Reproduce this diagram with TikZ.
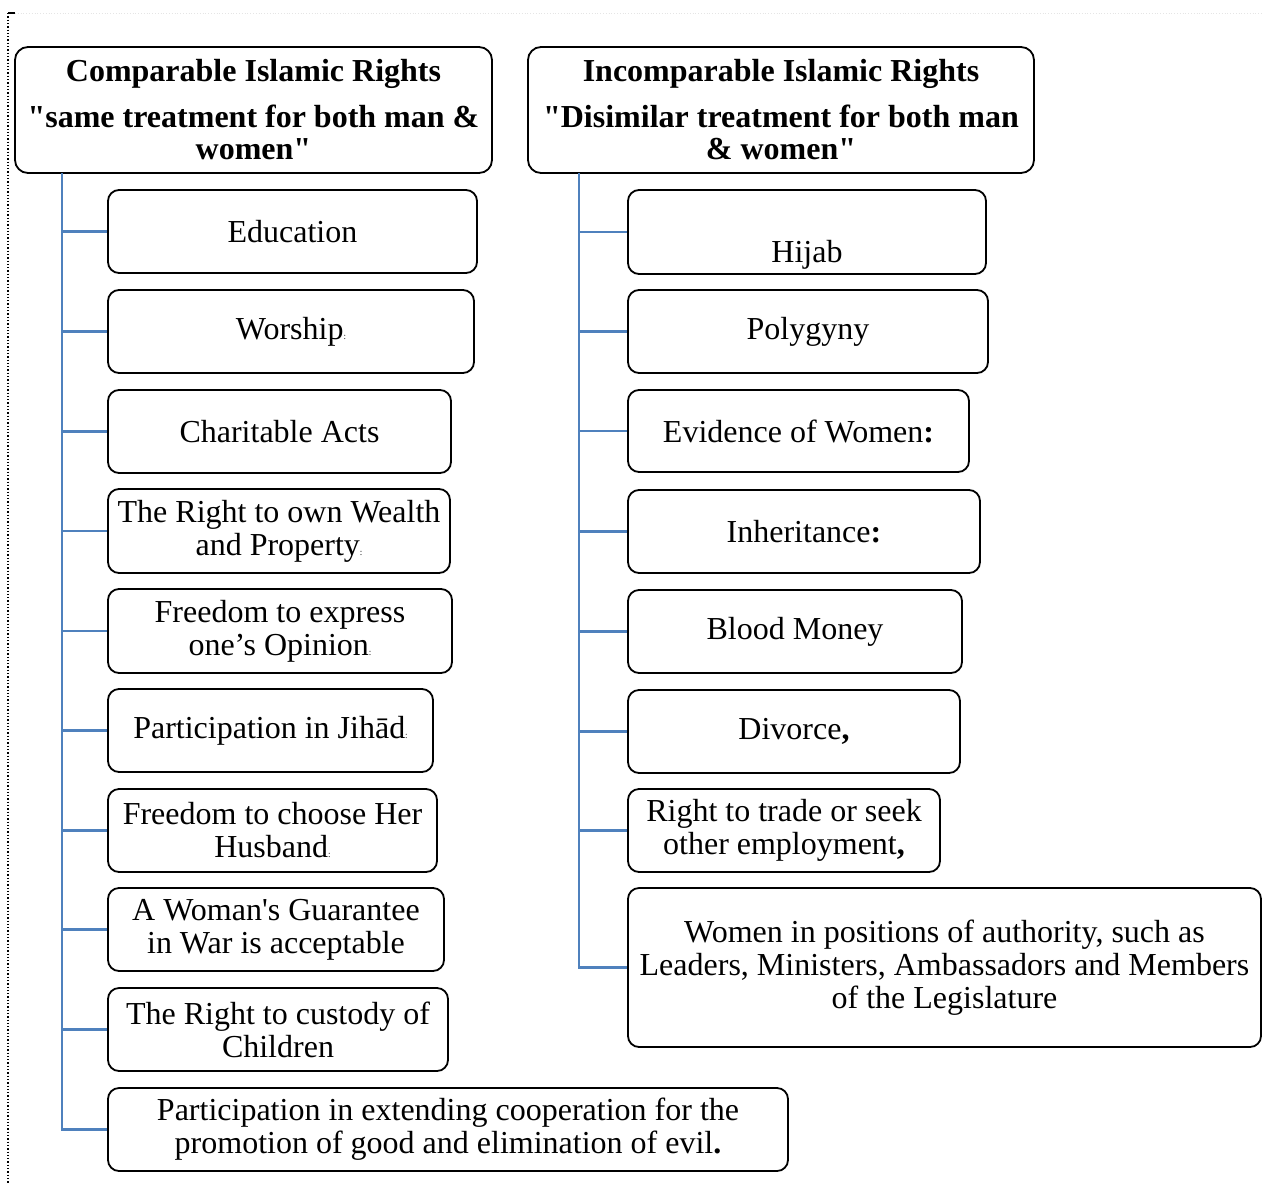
\documentclass[tikz,border=0pt]{standalone}
\usepackage{fontspec}
\setmainfont{Liberation Serif}
\definecolor{linkblue}{RGB}{79,129,189}
\newcommand{\tcol}{{\fontsize{9}{9}\selectfont :}}
\newcommand{\dq}{\textquotedbl}
\tikzset{
  itembox/.style={draw=black, line width=1.8pt, rounded corners=11pt, fill=white,
    align=center, inner sep=0pt, font=\fontsize{32}{33}\selectfont},
  headbox/.style={itembox, rounded corners=13pt, font=\bfseries\fontsize{32}{32}\selectfont},
  conn/.style={draw=linkblue, line width=2.4pt}
}
\begin{document}
\begin{tikzpicture}[x=1pt,y=-1pt]
\clip (0,0) rectangle (1263,1184);
\fill[white] (0,0) rectangle (1263,1184);
% page frame remnants
\draw[black, line width=1.3pt, dotted] (8,13) -- (8,1184);
\draw[black, line width=1.3pt] (8,13) -- (15,13);
\draw[black!10, line width=0.8pt, dotted] (15,13) -- (1263,13);

% headers
\node[headbox, minimum width=477, minimum height=126] (hL) at (253.5,110)
  {Comparable Islamic Rights\\[14pt]\dq same treatment for both man \&\\women\dq};
\node[headbox, minimum width=506, minimum height=126] (hR) at (781,110)
  {Incomparable Islamic Rights\\[14pt]\dq Disimilar treatment for both man\\\& women\dq};

% left column
\node[itembox, minimum width=369, minimum height=83] (l1) at (292.5,231.5) {Education};
\node[itembox, minimum width=366, minimum height=83] (l2) at (291,331.5) {Worship\tcol};
\node[itembox, minimum width=343, minimum height=83] (l3) at (279.5,431.5) {Charitable Acts};
\node[itembox, minimum width=342, minimum height=84] (l4) at (279,531) {The Right to own Wealth\\and Property\tcol};
\node[itembox, minimum width=344, minimum height=84] (l5) at (280,631) {Freedom to express\\one’s Opinion\tcol};
\node[itembox, minimum width=325, minimum height=83] (l6) at (270.5,730.5) {Participation in Jihād\tcol};
\node[itembox, minimum width=329, minimum height=83] (l7) at (272.5,830.5) {Freedom to choose Her\\Husband\tcol};
\node[itembox, minimum width=336, minimum height=83] (l8) at (276,929.5) {A Woman\textquotesingle s Guarantee\\in War is acceptable};
\node[itembox, minimum width=340, minimum height=83] (l9) at (278,1029.5) {The Right to custody of\\Children};
\node[itembox, minimum width=680, minimum height=83] (l10) at (448,1129.5) {Participation in extending cooperation for the\\promotion of good and elimination of evil\textbf{.}};

% right column
\node[itembox, minimum width=358, minimum height=84] (r1) at (807,232) {\raisebox{-23pt}[\height][\depth]{Hijab}};
\node[itembox, minimum width=360, minimum height=83] (r2) at (808,331.5) {Polygyny};
\node[itembox, minimum width=341, minimum height=82] (r3) at (798.5,431) {Evidence of Women\textbf{:}};
\node[itembox, minimum width=352, minimum height=83] (r4) at (804,531.5) {Inheritance\textbf{:}};
\node[itembox, minimum width=334, minimum height=83] (r5) at (795,631.5) {Blood Money};
\node[itembox, minimum width=332, minimum height=83] (r6) at (794,731.5) {Divorce\textbf{,}};
\node[itembox, minimum width=312, minimum height=83] (r7) at (784,830.5) {Right to trade or seek\\other employment\textbf{,}};
\node[itembox, minimum width=633, minimum height=159] (r8) at (944.5,967.5) {Women in positions of authority, such as\\Leaders, Ministers, Ambassadors and Members\\of the Legislature};

% connectors
\coordinate (lt) at (62,173);
\coordinate (rt) at (579,173);
\foreach \n in {l1,l2,l3,l4,l5,l6,l7,l8,l9,l10}
  \draw[conn] (lt) |- (\n.west);
\foreach \n in {r1,r2,r3,r4,r5,r6,r7,r8}
  \draw[conn] (rt) |- (\n.west);
\end{tikzpicture}
\end{document}
